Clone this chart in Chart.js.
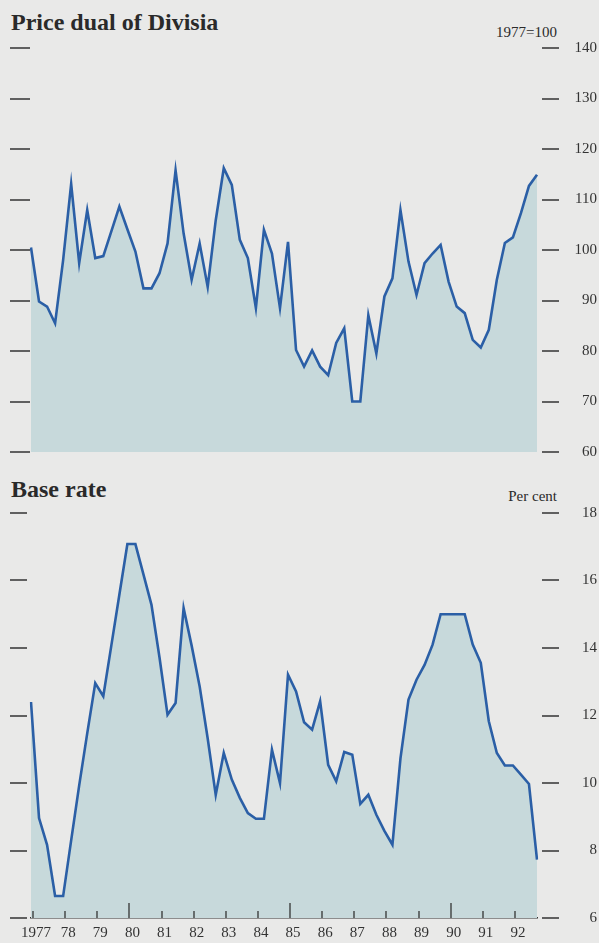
<!DOCTYPE html>
<html>

<head>
    <title>Price dual of Divisia / Base rate</title>
    <script src="https://cdn.jsdelivr.net/npm/chart.js@4"></script>
    <style type="text/css">
        body {
            margin: 0;
            background: #e9e9e8;
        }

        #page {
            position: relative;
            width: 599px;
            height: 943px;
            overflow: hidden;
            font-family: "Liberation Serif", "DejaVu Serif", serif;
            color: #2a2a2a;
        }

        .title {
            position: absolute;
            left: 11px;
            font-weight: bold;
            font-size: 24px;
            line-height: 1;
            white-space: nowrap;
        }

        .unit {
            position: absolute;
            right: 42px;
            font-size: 15px;
            line-height: 1;
        }

        canvas {
            position: absolute;
            left: 0;
        }
    </style>
</head>

<body>
    <div id="page">
        <div class="title" style="top:10px;">Price dual of Divisia</div>
        <div class="unit" style="top:25px;">1977=100</div>
        <canvas id="topChart" width="599" height="470" style="top:0px;"></canvas>

        <div class="title" style="top:477px;">Base rate</div>
        <div class="unit" style="top:489px;">Per cent</div>
        <canvas id="bottomChart" width="599" height="473" style="top:470px;"></canvas>
    </div>

    <script>
        // quarterly data, 1977 Q1 - 1992 Q4
        var years = ['1977', '78', '79', '80', '81', '82', '83', '84', '85', '86', '87', '88', '89', '90', '91', '92'];
        var quarters = ['Q1', 'Q2', 'Q3', 'Q4'];

        var divisia = [100.5, 89.8, 88.8, 85.5, 98.0, 113.1, 97.4, 107.9, 98.4, 98.8,
            103.7, 108.6, 104.1, 99.7, 92.4, 92.4, 95.4, 101.3, 115.8, 103.3,
            94.1, 101.3, 92.7, 105.9, 116.2, 112.9, 102.0, 98.4, 88.5, 104.0,
            99.3, 88.5, 101.6, 80.2, 76.9, 80.1, 76.9, 75.2, 81.6, 84.5,
            70.0, 70.0, 87.1, 79.5, 90.8, 94.4, 107.9, 97.7, 91.1, 97.4,
            99.3, 101.0, 93.7, 88.8, 87.5, 82.2, 80.7, 84.2, 94.1, 101.4,
            102.5, 107.3, 112.7, 114.9];

        var baseRate = [12.4, 8.96, 8.17, 6.65, 6.65, 8.3, 9.93, 11.47, 12.96, 12.57,
            14.07, 15.58, 17.08, 17.08, 16.18, 15.28, 13.72, 12.02, 12.37, 15.18,
            14.07, 12.86, 11.32, 9.65, 10.89, 10.1, 9.56, 9.11, 8.94, 8.94,
            10.99, 10.0, 13.21, 12.71, 11.8, 11.58, 12.42, 10.54, 10.05, 10.92,
            10.84, 9.38, 9.65, 9.06, 8.58, 8.17, 10.73, 12.47, 13.06, 13.5,
            14.1, 15.0, 15.0, 15.0, 15.0, 14.1, 13.56, 11.83, 10.89, 10.52,
            10.52, 10.25, 9.97, 7.73];

        var longTickYears = ['80', '85', '90'];

        var labels = [];
        years.forEach(function (y) {
            quarters.forEach(function (q) {
                labels.push(y + ' ' + q);
            });
        });

        var lineColor = '#2b5fa6';
        var fillColor = 'rgb(199, 217, 219)';
        var inkColor = '#333333';
        var serif = '"Liberation Serif", "DejaVu Serif", serif';

        // short dashes either side of the plot at each y tick, plus year ticks on the x axis
        var tickMarks = {
            id: 'tickMarks',
            afterDraw: function (chart, args, opts) {
                var ctx = chart.ctx;
                var x = chart.scales.x;
                var y = chart.scales.y;
                var area = chart.chartArea;
                ctx.save();
                ctx.strokeStyle = inkColor;
                ctx.lineWidth = 1.5;
                y.ticks.forEach(function (t) {
                    var py = Math.round(y.getPixelForValue(t.value));
                    ctx.beginPath();
                    ctx.moveTo(area.left - 21, py);
                    ctx.lineTo(area.left - opts.leftGap, py);
                    ctx.moveTo(area.right + 5, py);
                    ctx.lineTo(area.right + 22, py);
                    ctx.stroke();
                });
                if (opts.yearTicks) {
                    ctx.lineWidth = 1.3;
                    years.forEach(function (yr, k) {
                        var px = Math.round(x.getPixelForValue(k * 4)) + 2;
                        var len = longTickYears.indexOf(yr) >= 0 ? 15 : 7;
                        ctx.beginPath();
                        ctx.moveTo(px, area.bottom);
                        ctx.lineTo(px, area.bottom - len);
                        ctx.stroke();
                    });
                }
                ctx.restore();
            }
        };

        function makeChart(canvasId, values, yMin, yMax, step, topPad, bottomPad, showX, labelPad, leftGap) {
            var ctx = document.getElementById(canvasId);
            return new Chart(ctx, {
                type: 'line',
                data: {
                    labels: labels,
                    datasets: [{
                        data: values,
                        borderColor: lineColor,
                        borderWidth: 2.6,
                        backgroundColor: fillColor,
                        fill: 'start',
                        pointRadius: 0,
                        tension: 0,
                    }],
                },
                options: {
                    responsive: false,
                    animation: false,
                    layout: { padding: { left: 31, right: 2, top: topPad, bottom: bottomPad } },
                    plugins: {
                        legend: { display: false },
                        tooltip: { enabled: false },
                        tickMarks: { yearTicks: showX, leftGap: leftGap },
                    },
                    scales: {
                        x: {
                            type: 'category',
                            display: showX,
                            offset: false,
                            grid: { display: false, drawTicks: false },
                            border: { display: showX, color: inkColor, width: 1.5 },
                            ticks: {
                                autoSkip: false,
                                maxRotation: 0,
                                minRotation: 0,
                                padding: 6,
                                labelOffset: 5,
                                color: inkColor,
                                font: { family: serif, size: 15 },
                                callback: function (val, i) {
                                    return i % 4 === 0 ? years[i / 4] : '';
                                },
                            },
                            afterFit: function (scale) {
                                scale.height = showX ? 25 : 0;
                                scale.paddingLeft = 0;
                                scale.paddingRight = 0;
                            },
                        },
                        y: {
                            position: 'right',
                            min: yMin,
                            max: yMax,
                            grid: { display: false, drawTicks: false },
                            border: { display: false },
                            ticks: {
                                stepSize: step,
                                crossAlign: 'far',
                                padding: labelPad,
                                color: inkColor,
                                font: { family: serif, size: 15 },
                            },
                            afterFit: function (scale) {
                                scale.width = 60;
                                scale.paddingTop = 0;
                                scale.paddingBottom = 0;
                            },
                        },
                    },
                },
                plugins: [tickMarks],
            });
        }

        makeChart('topChart', divisia, 60, 140, 10, 48, 18, false, 37.5, 1);
        makeChart('bottomChart', baseRate, 6, 18, 2, 43, 0, true, 43, 4);
    </script>
</body>

</html>
